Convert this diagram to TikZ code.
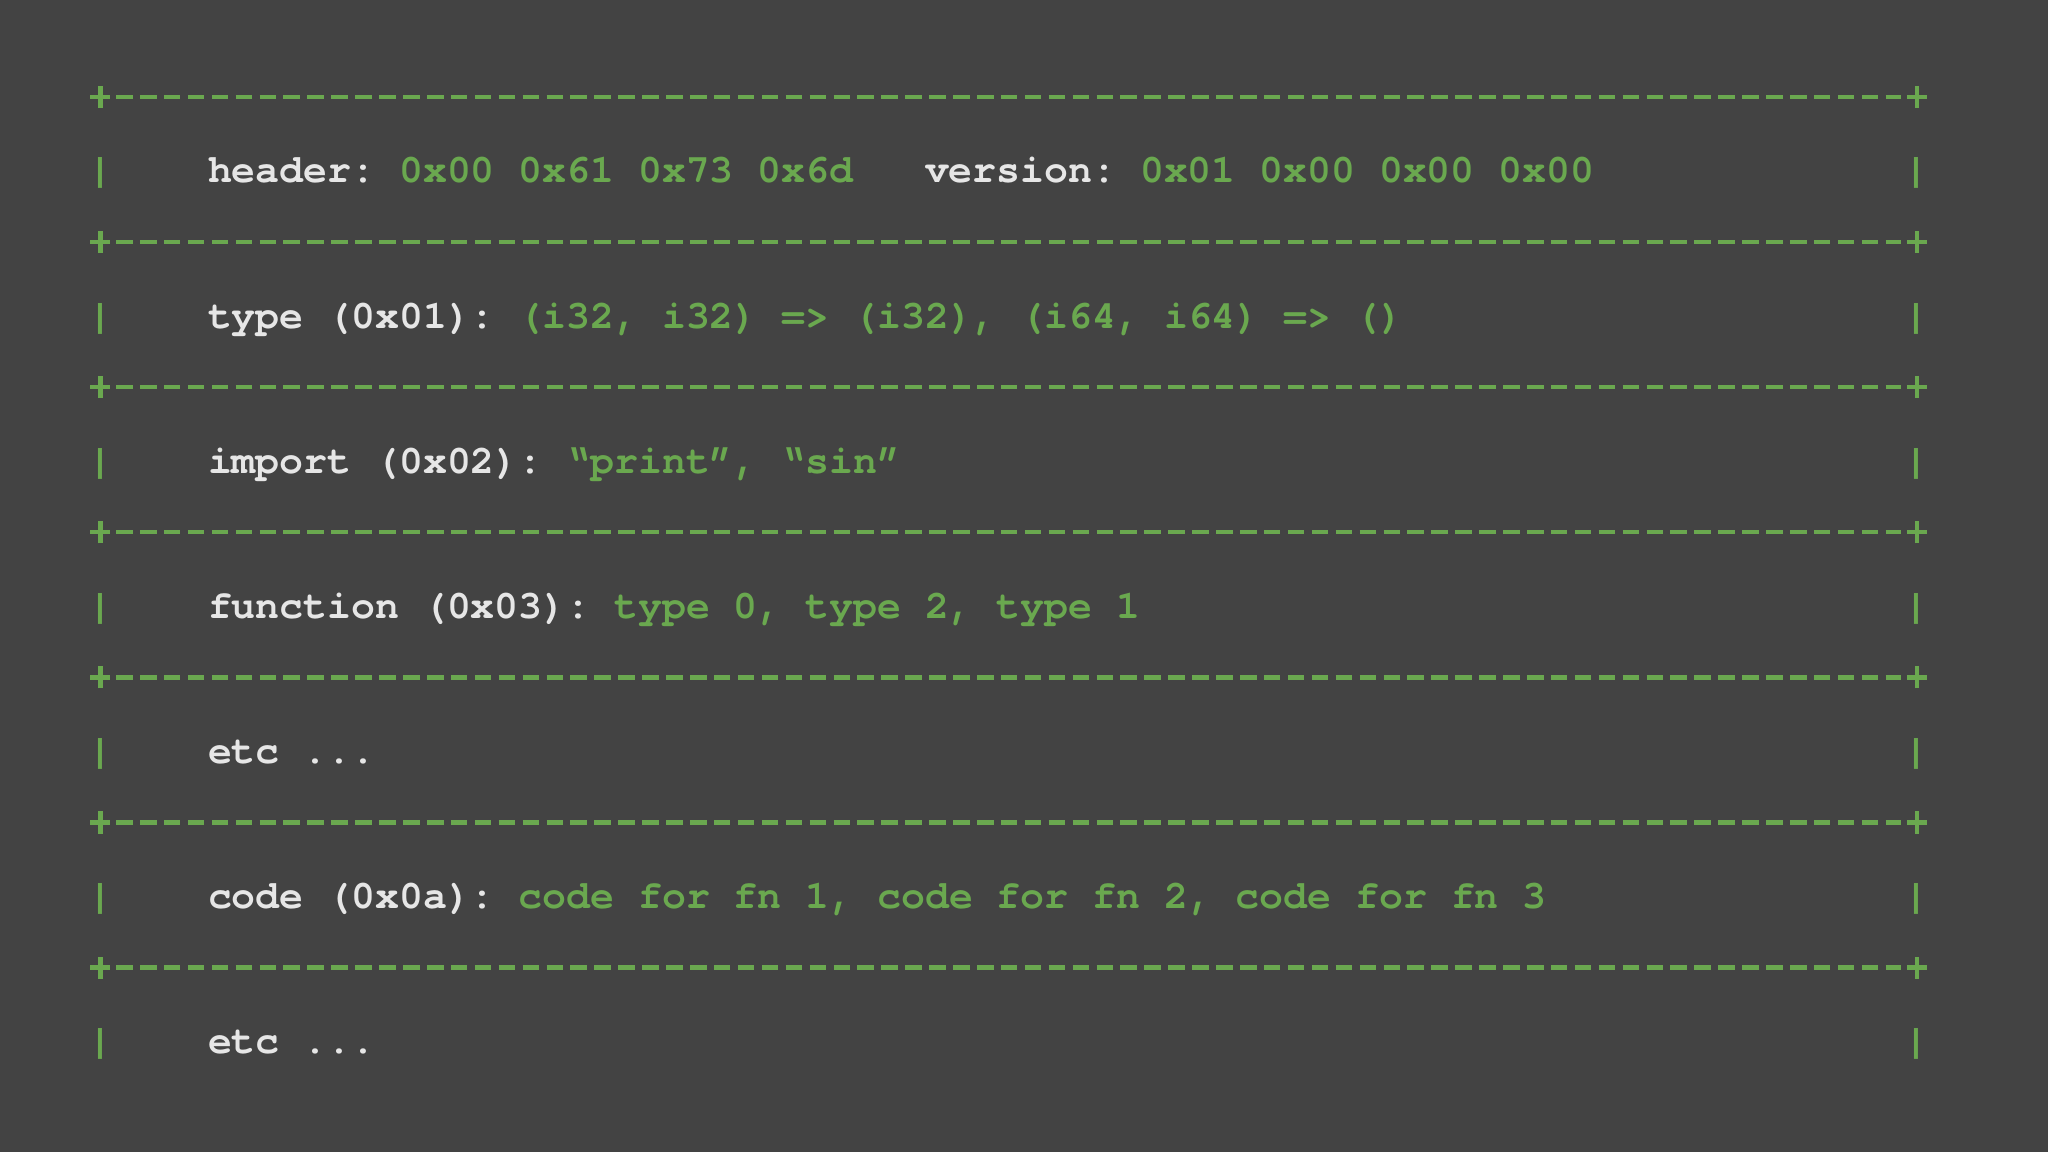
\documentclass[tikz,border=0pt]{standalone}
\usepackage{fontspec}
\newfontfamily\codefont{texgyrecursor-regular}[Extension=.otf, BoldFont=texgyrecursor-bold, Ligatures=TeXOff]
\definecolor{bg}{HTML}{434343}
\definecolor{grn}{HTML}{6AA84F}
\definecolor{lbl}{HTML}{E6E6E6}
\def\cw{23.9}
\def\cx{88.5}
\def\by{183}
\tikzset{
  txt/.style={inner sep=0pt, outer sep=0pt, anchor=base west,
    font=\codefont\bfseries\fontsize{11.33}{13}\selectfont\frenchspacing},
  key/.style={txt, text=lbl},
  val/.style={txt, text=grn},
  sepline/.style={draw=grn, line width=1.25pt, dash pattern=on 4.7pt off 2.1pt},
  plusmark/.style={draw=grn, line width=1.25pt},
}
\begin{document}
\begin{tikzpicture}[x=0.01cm, y=-0.01cm]
\fill[bg] (0,0) rectangle (2048,1152);
\useasboundingbox (0,0) rectangle (2048,1152);
\foreach \j in {0,...,6}{
  \coordinate (pl\j) at (100.45,{97+145.1*\j});
  \coordinate (pr\j) at (1916.85,{97+145.1*\j});
  \coordinate (sl\j) at (116.1,{97+145.1*\j});
  \coordinate (sr\j) at (1901.2,{97+145.1*\j});
  \draw[sepline] (sl\j) -- (sr\j);
  \draw[plusmark] ([xshift=-0.1cm]pl\j) -- ([xshift=0.1cm]pl\j)
                  ([yshift=-0.11cm]pl\j) -- ([yshift=0.11cm]pl\j);
  \draw[plusmark] ([xshift=-0.1cm]pr\j) -- ([xshift=0.1cm]pr\j)
                  ([yshift=-0.11cm]pr\j) -- ([yshift=0.11cm]pr\j);
  \node[val] (lp\j) at (\cx,{\by+145.1*\j}) {|};
  \node[val] (rp\j) at ({\cx+76*\cw},{\by+145.1*\j}) {|};
}
% row 0
\node[key] (hdr) at ({\cx+5*\cw},\by) {header:};
\node[val] (hdrv) at ({\cx+13*\cw},\by) {0x00 0x61 0x73 0x6d};
\node[key] (ver) at ({\cx+35*\cw},\by) {version:};
\node[val] (verv) at ({\cx+44*\cw},\by) {0x01 0x00 0x00 0x00};
% row 1
\node[key] (typ) at ({\cx+5*\cw},{\by+145.1}) {type (0x01):};
\node[val] (typv) at ({\cx+18*\cw},{\by+145.1}) {(i32, i32) => (i32), (i64, i64) => ()};
% row 2
\node[key] (imp) at ({\cx+5*\cw},{\by+2*145.1}) {import (0x02):};
\node[val] (impv) at ({\cx+20*\cw},{\by+2*145.1}) {“print”, “sin”};
% row 3
\node[key] (fun) at ({\cx+5*\cw},{\by+3*145.1}) {function (0x03):};
\node[val] (funv) at ({\cx+22*\cw},{\by+3*145.1}) {type 0, type 2, type 1};
% row 4
\node[key] (etc1) at ({\cx+5*\cw},{\by+4*145.1}) {etc ...};
% row 5
\node[key] (cod) at ({\cx+5*\cw},{\by+5*145.1}) {code (0x0a):};
\node[val] (codv) at ({\cx+18*\cw},{\by+5*145.1}) {code for fn 1, code for fn 2, code for fn 3};
% row 6
\node[key] (etc2) at ({\cx+5*\cw},{\by+6*145.1}) {etc ...};
\end{tikzpicture}
\end{document}
